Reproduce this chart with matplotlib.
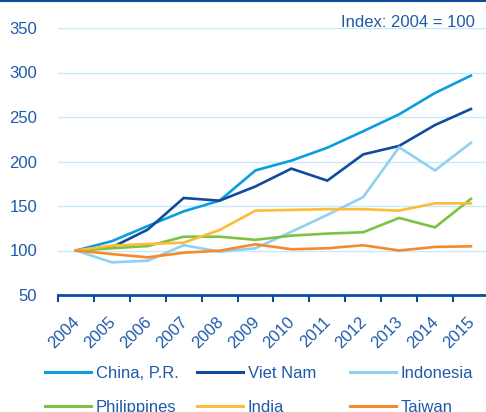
import matplotlib
matplotlib.use("Agg")
import matplotlib.pyplot as plt
from matplotlib.lines import Line2D
import matplotlib.transforms as mtransforms

years = ["2004", "2005", "2006", "2007", "2008", "2009", "2010", "2011", "2012", "2013", "2014", "2015"]
china = [100, 110.5, 127.5, 144, 156, 190, 201, 215.5, 234, 253, 277, 296.5]
vietnam = [100, 103.5, 123.5, 159, 156, 172, 192, 178.5, 208, 217.5, 241, 259]
indonesia = [100, 86.7, 88.5, 106, 98.7, 102.5, 121, 140, 160, 216, 190, 221]
philippines = [100, 102.5, 105, 115.5, 115.5, 112, 116.7, 119, 120.5, 136.6, 126, 158]
india = [100, 105.5, 107.3, 108.8, 123, 144.8, 145.6, 146.4, 146.4, 144.8, 153, 153]
taiwan = [100, 96, 92.3, 97.5, 99.8, 107, 101.4, 102.5, 105.9, 100, 104, 104.7]

series = [
    ("China, P.R.", china, "#0a9ddf"),
    ("Viet Nam", vietnam, "#0f4c9e"),
    ("Indonesia", indonesia, "#8fd1f2"),
    ("Philippines", philippines, "#7dc242"),
    ("India", india, "#fcbc38"),
    ("Taiwan", taiwan, "#f58a2b"),
]

plt.rcParams['font.family'] = ['Liberation Sans', 'DejaVu Sans']
txt_color = "#1f5aa8"
axis_color = "#0f4c9e"
grid_color = "#c8eaf8"
FS = 12

W, H = 486, 412
fig = plt.figure(figsize=(W / 100, H / 100), dpi=100)
ax = fig.add_axes([58 / W, (H - 295) / H, (W - 58) / W, (295 - 28) / H])

x = list(range(len(years)))
for name, vals, col in series:
    ax.plot(x, vals, color=col, lw=1.9, solid_joinstyle='miter', zorder=3)

ax.set_ylim(50, 350)
ax.set_xlim(-0.5, 11.42)
ax.set_yticks([50, 100, 150, 200, 250, 300, 350])
ax.yaxis.grid(True, color=grid_color, lw=1.0, zorder=0)
ax.set_axisbelow(True)
for s in ["top", "right", "left"]:
    ax.spines[s].set_visible(False)
ax.spines["bottom"].set_color(axis_color)
ax.spines["bottom"].set_linewidth(2.0)
ax.tick_params(axis='y', length=0, pad=15, labelsize=FS, labelcolor=txt_color)

ax.set_xticks([i - 0.5 for i in range(12)])
ax.set_xticklabels([])
ax.set_xticks(x, minor=True)
ax.set_xticklabels(years, minor=True, rotation=45, ha='right', va='top', rotation_mode='anchor')
ax.tick_params(axis='x', which='major', length=5, width=1.5, color=axis_color, direction='out')
ax.tick_params(axis='x', which='minor', length=0, pad=14, labelsize=FS, labelcolor=txt_color)
for lab in ax.get_xticklabels(minor=True):
    lab.set_transform(lab.get_transform() + mtransforms.ScaledTranslation(-4 / 100, 0, fig.dpi_scale_trans))

fig.text(475 / W, (H - 27) / H, "Index: 2004 = 100", ha='right', va='baseline', fontsize=FS, color=txt_color)

# top border line
fig.add_artist(Line2D([0, 1], [1 - 1 / H, 1 - 1 / H], transform=fig.transFigure, color=axis_color, lw=1.5))

# legend in three columns
col_x = [45, 197, 350]
for c in range(3):
    handles = []
    labels = []
    for r in range(2):
        name, vals, col = series[r * 3 + c]
        handles.append(Line2D([], [], color=col, lw=2.2))
        labels.append(name)
    fig.legend(handles, labels, loc='upper left',
               bbox_to_anchor=(col_x[c] / W, (H - 366) / H),
               frameon=False, fontsize=FS, handlelength=2.75, handletextpad=0.3,
               labelspacing=1.15, borderpad=0, borderaxespad=0, labelcolor=txt_color)

fig.savefig("out.png", dpi=100)
